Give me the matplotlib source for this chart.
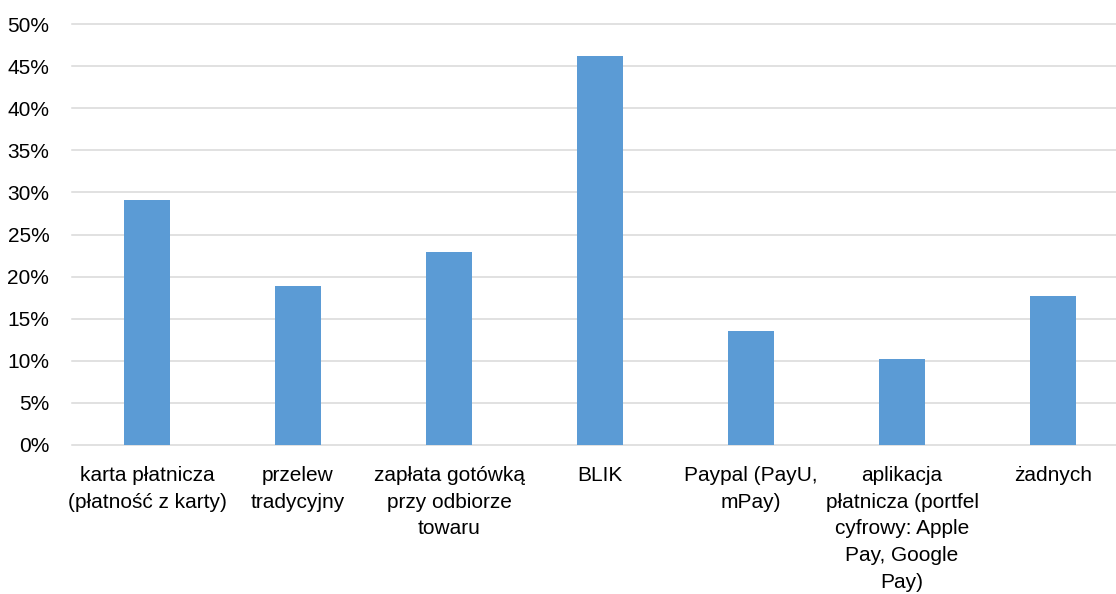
import matplotlib
matplotlib.use("Agg")
import numpy as np
from matplotlib import pyplot as plt
from matplotlib.ticker import FuncFormatter

categories = [
    "karta płatnicza\n(płatność z karty)",
    "przelew\ntradycyjny",
    "zapłata gotówką\nprzy odbiorze\ntowaru",
    "BLIK",
    "Paypal (PayU,\nmPay)",
    "aplikacja\npłatnicza (portfel\ncyfrowy: Apple\nPay, Google\nPay)",
    "żadnych",
]
values = [29.1, 18.9, 22.9, 46.2, 13.5, 10.2, 17.7]
yticks = [0, 5, 10, 15, 20, 25, 30, 35, 40, 45, 50]

plt.rcParams["font.family"] = ["Liberation Sans", "DejaVu Sans"]

fig = plt.figure(figsize=(11.16, 5.94), dpi=100)
ax = fig.add_axes([71.5 / 1116, 149 / 594, 1057 / 1116, 421 / 594])

x = np.arange(len(categories))
ax.bar(x, values, width=0.31, color="#5B9BD5", zorder=3)

ax.set_xlim(-0.5, len(categories) - 0.5)
ax.set_ylim(0, 50)
ax.set_yticks(yticks)
ax.yaxis.set_major_formatter(FuncFormatter(lambda v, p: f"{v:.0f}%"))
ax.set_xticks(x)
ax.set_xticklabels(categories, linespacing=1.52, va="top")

for t in yticks:
    ax.axhline(t, color="#D9D9D9", linewidth=1.1, zorder=1, clip_on=False)

for s in ax.spines.values():
    s.set_visible(False)
ax.tick_params(axis="both", length=0, labelsize=15, colors="#000000")
ax.tick_params(axis="y", pad=16)
ax.tick_params(axis="x", pad=15)

fig.savefig("out.png", dpi=100)
